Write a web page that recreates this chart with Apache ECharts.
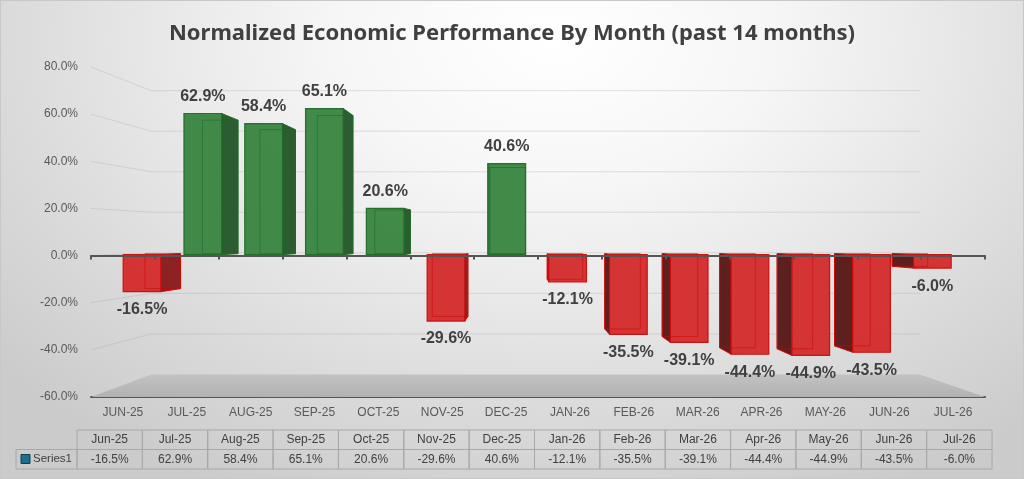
<!DOCTYPE html>
<html>
	<head>
		<meta charset="utf-8" />
		<title></title>
		<script type="text/javascript" src="https://cdn.jsdelivr.net/npm/echarts/dist/echarts.min.js"></script>
		<style>
			body { margin: 0; }
			#main {
				width: 1024px; height: 479px; box-sizing: border-box;
				border: 1px solid #c8c8c8;
				background: radial-gradient(ellipse 72% 105% at 54% 8%, #ffffff 0%, #f6f6f6 30%, #e9e9e9 52%, #dcdcdc 72%, #cbcbcb 100%);
			}
		</style>
	</head>
	<body>
		<div id="main"></div>
		<script type="text/javascript">
    // data
    var months = ['Jun-25', 'Jul-25', 'Aug-25', 'Sep-25', 'Oct-25', 'Nov-25', 'Dec-25',
                  'Jan-26', 'Feb-26', 'Mar-26', 'Apr-26', 'May-26', 'Jun-26', 'Jul-26'];
    var values = [-16.5, 62.9, 58.4, 65.1, 20.6, -29.6, 40.6, -12.1, -35.5, -39.1, -44.4, -44.9, -43.5, -6.0];
    var yTicks = [-60, -40, -20, 0, 20, 40, 60, 80];
    var seriesName = 'Series1';

    // fake 3D: everything is pulled toward a vanishing point
    var VPX = 520, VPY = 235;
    var D_FRONT = 0.048, D_BACK = 0.1, D_WALL = 0.14;
    function proj(x, y, d) { return [x + (VPX - x) * d, y + (VPY - y) * d]; }

    var FONT = 'Liberation Sans';

    function renderBar(params, api) {
      var i = api.value(0), v = api.value(1);
      var p0 = api.coord([i, 0]), p1 = api.coord([i, v]);
      var half = api.size([1, 0])[0] * 0.31;
      var xl = p0[0] - half, xr = p0[0] + half, ya = p1[1], yb = p0[1];
      var f = [proj(xl, ya, D_FRONT), proj(xr, ya, D_FRONT), proj(xr, yb, D_FRONT), proj(xl, yb, D_FRONT)];
      var b = [proj(xl, ya, D_BACK), proj(xr, ya, D_BACK), proj(xr, yb, D_BACK), proj(xl, yb, D_BACK)];
      var pos = v >= 0;
      var rightSide = f[1][0] < VPX;
      var front = pos ? '#37843e' : '#d32a2a';
      var edge = pos ? '#1f6a29' : '#cc0a0a';
      var side = pos ? '#2b5d31' : (rightSide ? '#8c2222' : '#5e1f1f');
      var sidePts = rightSide ? [f[1], b[1], b[2], f[2]] : [f[0], b[0], b[3], f[3]];
      var lx = (f[0][0] + f[1][0]) / 2;
      var topY = Math.min(f[0][1], f[3][1]), botY = Math.max(f[0][1], f[3][1]);
      return {
        type: 'group',
        children: [
          { type: 'polygon', shape: { points: sidePts }, style: { fill: side, stroke: edge, lineWidth: 1 } },
          { type: 'polygon', shape: { points: f }, style: { fill: front, stroke: edge, lineWidth: 1.2, opacity: 0.95 } },
          // back edges seen through the glassy front
          { type: 'polygon', shape: { points: b }, style: { fill: null, stroke: edge, lineWidth: 1, opacity: 0.6 } },
          {
            type: 'text',
            style: {
              text: v.toFixed(1) + '%',
              x: lx, y: pos ? topY - 9 : botY + 10,
              align: 'center', verticalAlign: pos ? 'bottom' : 'top',
              fill: '#404040', fontSize: 16, fontWeight: 'bold', fontFamily: FONT
            }
          }
        ]
      };
    }

    function renderGrid(params, api) {
      var v = api.value(1);
      var cs = params.coordSys;
      var y = api.coord([0, v])[1];
      var L = cs.x, R = cs.x + cs.width;
      if (v === yTicks[0]) {
        // floor
        return {
          type: 'polygon',
          shape: { points: [[L, y], [R, y], proj(R, y, D_WALL), proj(L, y, D_WALL)] },
          style: {
            fill: { type: 'linear', x: 0, y: 0, x2: 0, y2: 1,
                    colorStops: [{ offset: 0, color: '#c2c2c2' }, { offset: 1, color: '#b2b2b2' }] }
          }
        };
      }
      return {
        type: 'polyline',
        shape: { points: [[L, y], proj(L, y, D_WALL), proj(R, y, D_WALL)] },
        style: { fill: null, stroke: 'rgba(150,150,150,0.25)', lineWidth: 1 }
      };
    }

    // data table under the chart
    var tLeft = 76, tRight = 991, kLeft = 15, rTop = 429, rH = 19.5;
    var colW = (tRight - tLeft) / months.length;
    var table = [];
    var cellStyle = { fill: 'rgba(0,0,0,0)', stroke: '#a8a8a8', lineWidth: 1 };
    table.push({ type: 'rect', shape: { x: kLeft, y: rTop + rH, width: tLeft - kLeft, height: rH }, style: cellStyle });
    table.push({ type: 'rect', shape: { x: 20, y: rTop + rH + 5, width: 9, height: 9 },
                 style: { fill: '#1e6f8e', stroke: '#0d3f55', lineWidth: 1 } });
    table.push({ type: 'text', style: { text: seriesName, x: 32, y: rTop + rH * 1.5, verticalAlign: 'middle',
                 fill: '#404040', fontSize: 11.5, fontFamily: FONT } });
    months.forEach(function (m, i) {
      var x = tLeft + colW * i;
      table.push({ type: 'rect', shape: { x: x, y: rTop, width: colW, height: rH }, style: cellStyle });
      table.push({ type: 'rect', shape: { x: x, y: rTop + rH, width: colW, height: rH }, style: cellStyle });
      table.push({ type: 'text', style: { text: m, x: x + colW / 2, y: rTop + rH / 2, align: 'center', verticalAlign: 'middle',
                   fill: '#404040', fontSize: 12, fontFamily: FONT } });
      table.push({ type: 'text', style: { text: values[i].toFixed(1) + '%', x: x + colW / 2, y: rTop + rH * 1.5, align: 'center',
                   verticalAlign: 'middle', fill: '#404040', fontSize: 12, fontFamily: FONT } });
    });

	var myChart = echarts.init(document.getElementById('main'));
    var option = {
      backgroundColor: 'transparent',
      animation: false,
      title: {
        text: 'Normalized Economic Performance By Month (past 14 months)',
        left: 'center', top: 17,
        textStyle: { color: '#404040', fontSize: 22, fontWeight: 'bold', fontFamily: 'Noto Sans' }
      },
      grid: { top: 66, left: 90, right: 38, bottom: 81 },
      xAxis: [
        {
          type: 'category', data: months,
          axisLine: { onZero: false, lineStyle: { color: '#555', width: 2 } },
          axisTick: { show: false },
          axisLabel: { color: '#595959', fontSize: 12, fontFamily: FONT, margin: 10,
                       formatter: function (s) { return s.toUpperCase(); } }
        },
        {
          type: 'category', data: months, position: 'bottom', z: 5,
          axisLine: { onZero: true, lineStyle: { color: '#555', width: 2 } },
          axisTick: { show: true, length: 4, lineStyle: { color: '#555', width: 2 } },
          axisLabel: { show: false }
        }
      ],
      yAxis: {
        type: 'value', min: -60, max: 80, interval: 20,
        axisLine: { show: false }, axisTick: { show: false }, splitLine: { show: false },
        axisLabel: { color: '#595959', fontSize: 12, fontFamily: FONT, margin: 13,
                     formatter: function (v) { return v.toFixed(1) + '%'; } }
      },
      series: [
        { type: 'custom', name: 'grid', silent: true, z: 1, renderItem: renderGrid,
          data: yTicks.map(function (v) { return [0, v]; }) },
        { type: 'custom', name: seriesName, z: 3, renderItem: renderBar,
          data: values.map(function (v, i) { return [i, v]; }) }
      ],
      graphic: table
    };
    myChart.setOption(option);
	</script>
	</body>
</html>
